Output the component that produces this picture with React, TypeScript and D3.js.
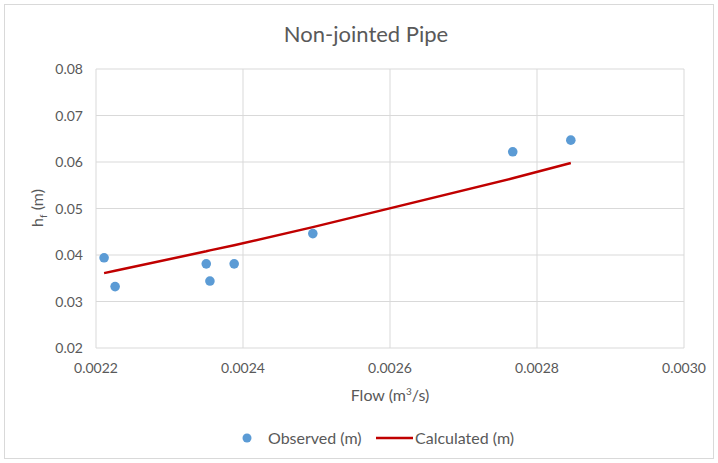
import React from "react";
import * as d3 from "d3";

const flowObserved = [0.002211, 0.002226, 0.00235, 0.002355, 0.002388, 0.002495, 0.002767, 0.002846];
const hfObserved = [0.0394, 0.0332, 0.0381, 0.0344, 0.0381, 0.0446, 0.0622, 0.0647];
const hfCalculated = [0.0361, 0.0366, 0.0408, 0.041, 0.0421, 0.046, 0.0565, 0.0598];
const xTicks = [0.0022, 0.0024, 0.0026, 0.0028, 0.003];
const yTicks = [0.02, 0.03, 0.04, 0.05, 0.06, 0.07, 0.08];

const W = 718;
const H = 463;
const FONT = "Lato, 'Open Sans', sans-serif";
const TXT = "#595959";

export default function App() {
  const x = d3.scaleLinear().domain([0.0022, 0.003]).range([96, 684]);
  const y = d3.scaleLinear().domain([0.02, 0.08]).range([348, 69]);
  const line = d3
    .line<number>()
    .x((_, i) => x(flowObserved[i]))
    .y((d) => y(d));

  return (
    <svg
      width={W}
      height={H}
      style={{ position: "absolute", left: 0, top: 0, background: "#fff" }}
      fontFamily={FONT}
    >
      <rect x={4.5} y={4.5} width={709} height={454} fill="#fff" stroke="#D9D9D9" />
      <text x={366} y={42} textAnchor="middle" fontSize={22} fill={TXT}>
        Non-jointed Pipe
      </text>
      {yTicks.map((t) => (
        <g key={"y" + t}>
          <line x1={96} x2={684} y1={y(t)} y2={y(t)} stroke="#D9D9D9" strokeWidth={1} />
          <text x={83} y={y(t) + 5} textAnchor="end" fontSize={14} fill={TXT}>
            {t.toFixed(2)}
          </text>
        </g>
      ))}
      {xTicks.map((t) => (
        <g key={"x" + t}>
          <line x1={x(t)} x2={x(t)} y1={69} y2={348} stroke="#D9D9D9" strokeWidth={1} />
          <text x={x(t)} y={373} textAnchor="middle" fontSize={14} fill={TXT}>
            {t.toFixed(4)}
          </text>
        </g>
      ))}
      <text x={390} y={401} textAnchor="middle" fontSize={16} fill={TXT}>
        Flow (m<tspan dy={-6} fontSize={10}>3</tspan>
        <tspan dy={6}>/s)</tspan>
      </text>
      <text
        transform={`translate(43,208) rotate(-90)`}
        textAnchor="middle"
        fontSize={16}
        fill={TXT}
      >
        h<tspan dy={4} fontSize={10}>f</tspan>
        <tspan dy={-4}> (m)</tspan>
      </text>
      <path d={line(hfCalculated) || ""} fill="none" stroke="#C00000" strokeWidth={2.5} />
      {flowObserved.map((f, i) => (
        <circle key={i} cx={x(f)} cy={y(hfObserved[i])} r={4.8} fill="#5B9BD5" />
      ))}
      <circle cx={247} cy={438} r={4.5} fill="#5B9BD5" />
      <text x={268} y={444} fontSize={16} fill={TXT}>
        Observed (m)
      </text>
      <line x1={376} x2={413} y1={438} y2={438} stroke="#C00000" strokeWidth={2.5} />
      <text x={415} y={444} fontSize={16} fill={TXT}>
        Calculated (m)
      </text>
    </svg>
  );
}
